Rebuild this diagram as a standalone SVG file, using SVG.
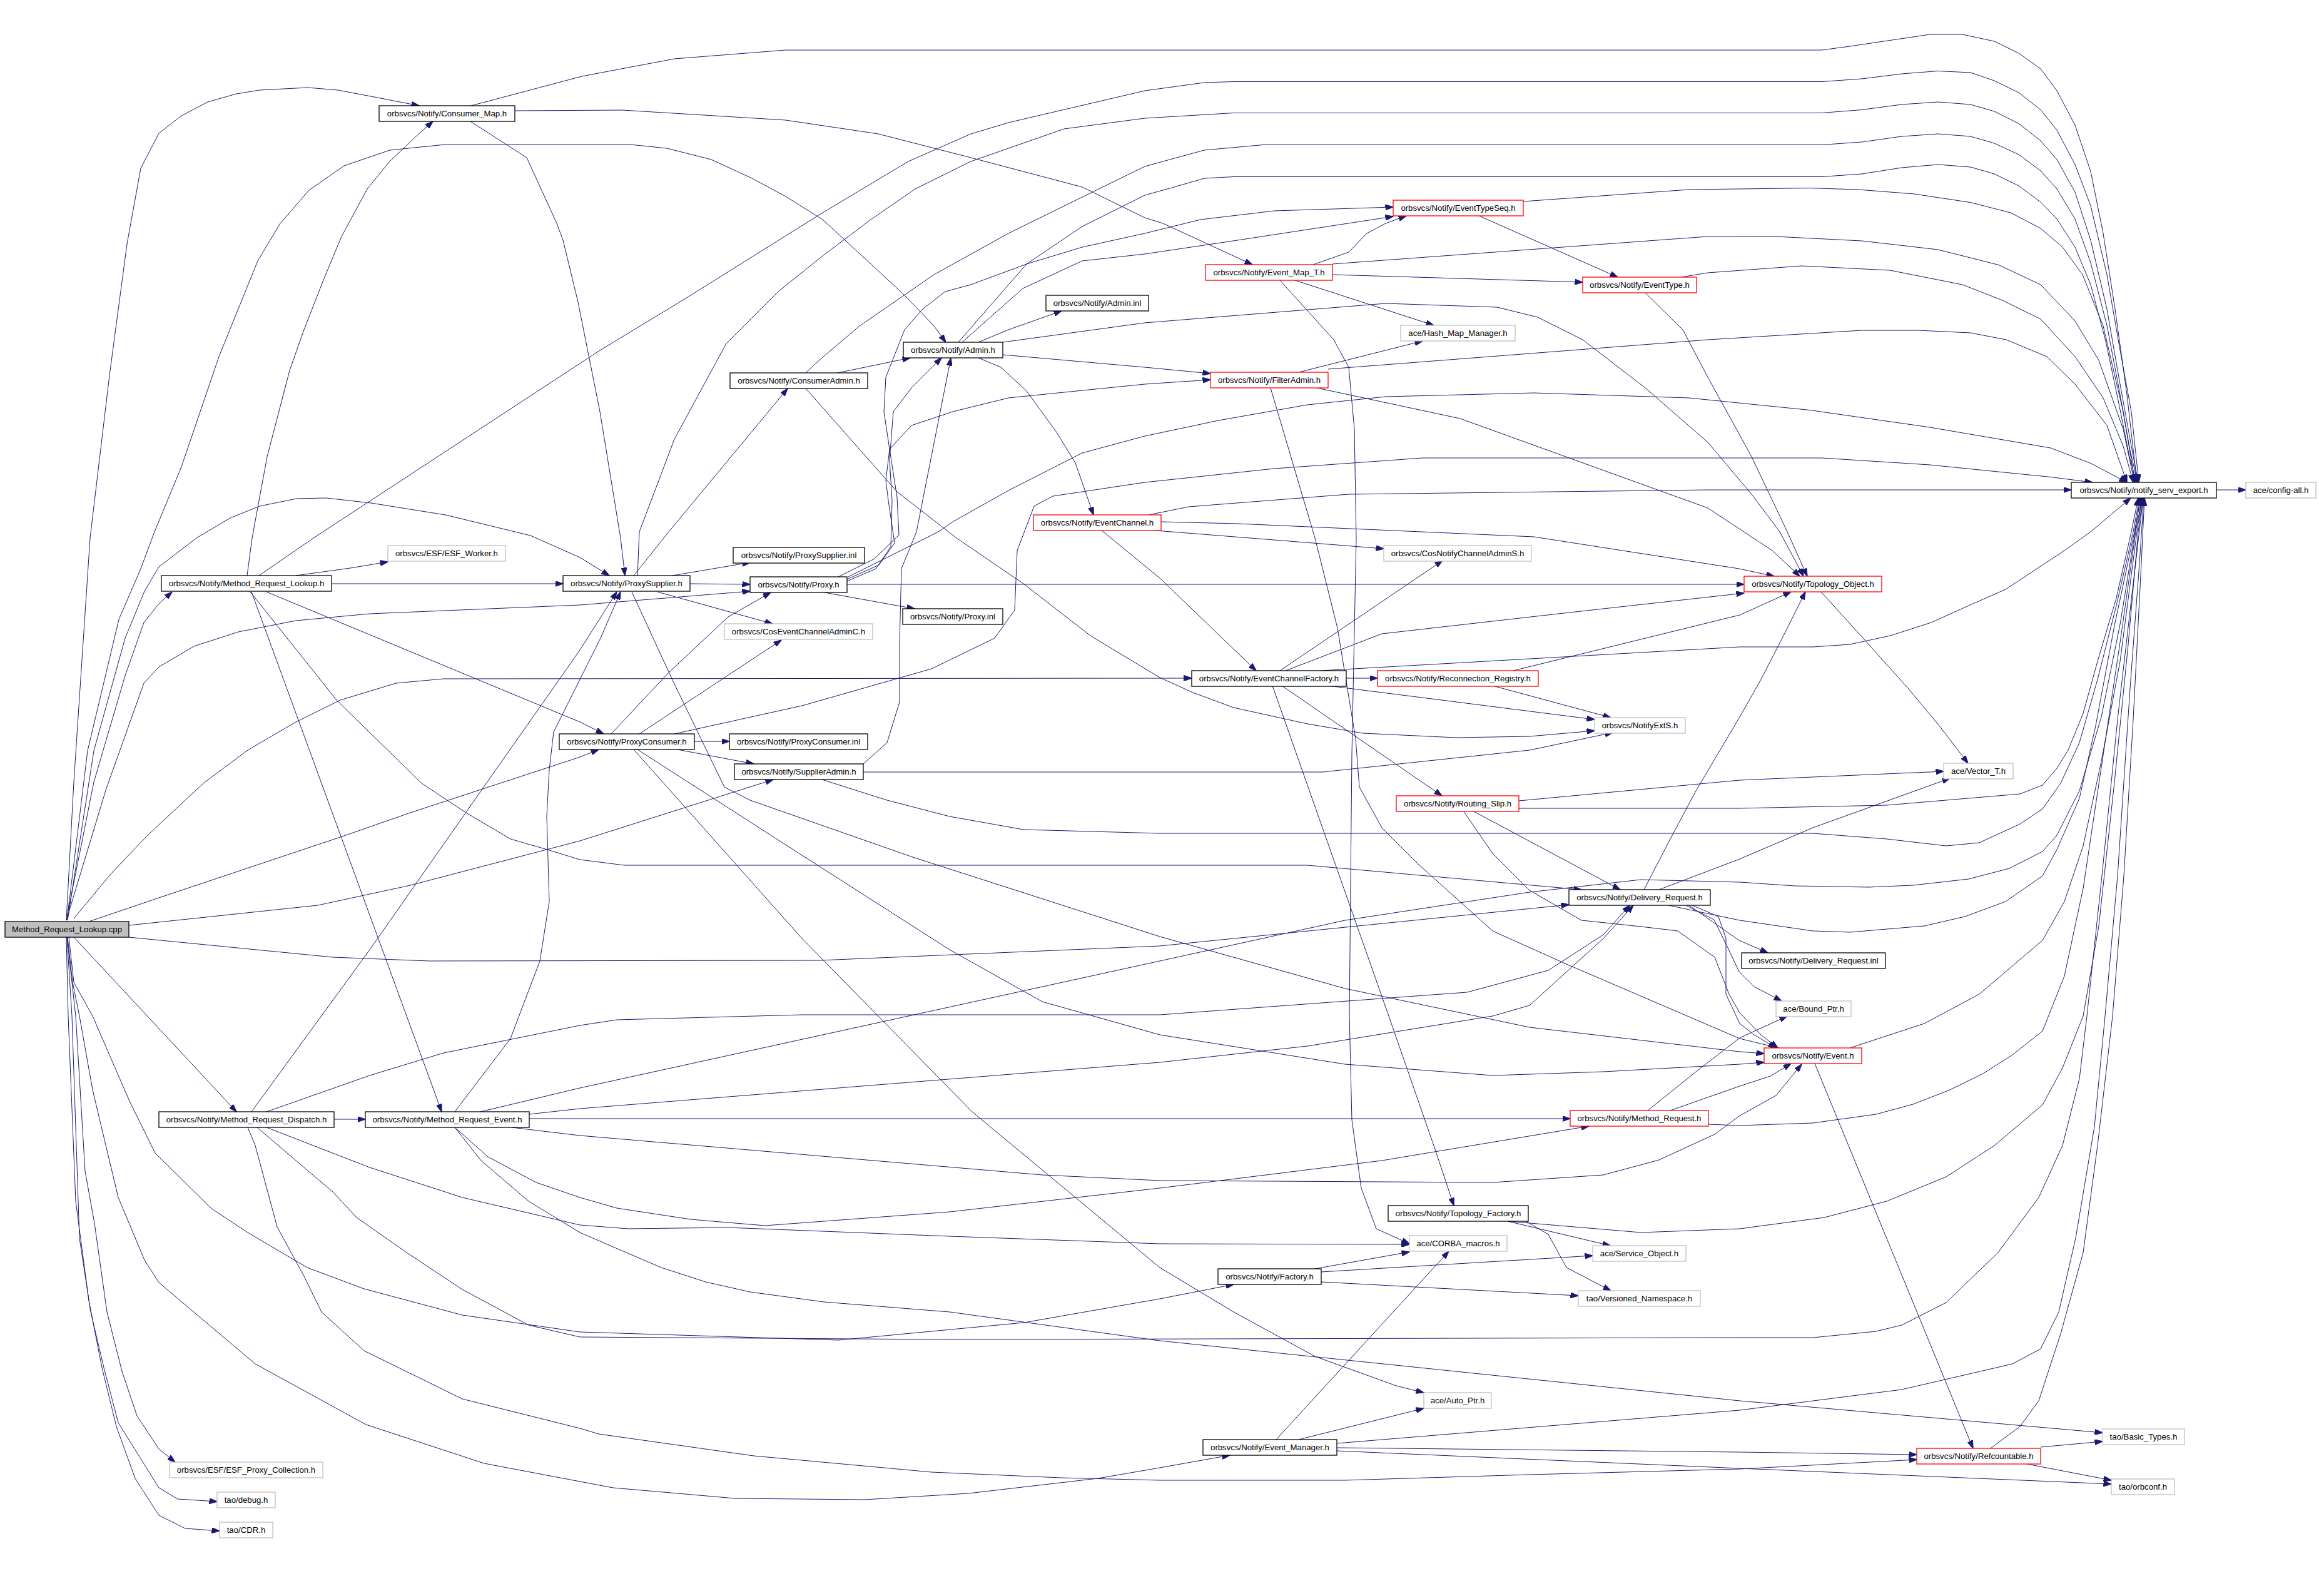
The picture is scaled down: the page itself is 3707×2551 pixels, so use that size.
<svg xmlns="http://www.w3.org/2000/svg" width="3707" height="2551" viewBox="0 0 3707 2551">
<defs>
<marker id="arr" markerWidth="13" markerHeight="9" refX="12.5" refY="4.5" orient="auto" markerUnits="userSpaceOnUse"><path d="M0,0 L13,4.5 L0,9 z" fill="#191970" stroke="#191970" stroke-width="1"/></marker>
<style>
.e{fill:none;stroke:#191970;stroke-width:1;stroke-linejoin:round;marker-end:url(#arr)}
.b{fill:#fff;stroke:#000;stroke-width:1.3}
.r{fill:#fff;stroke:#ff0000;stroke-width:1.3}
.g{fill:#fff;stroke:#bfbfbf;stroke-width:1.3}
.c{fill:#bfbfbf;stroke:#000;stroke-width:1.3}
text{font-family:'Liberation Sans',Arial,Helvetica,sans-serif;font-size:13.2px;text-anchor:middle;fill:#000}
</style>
</defs>
<rect width="3707" height="2551" fill="#fff"/>
<g id="edges">
<path class="e" d="M106,1471 L118,1250 L144,860 L175,600 L203,390 L225,269 L254,213 L290,185 L332,163 L378,150 L415,144 L492,140 L540,144 L593,154 L670,169"/>
<path class="e" d="M107,1471 L140,1200 L190,990 L225,909 L247,850 L290,746 L350,570 L412,417 L448,357 L494,304 L550,265 L623,240 L712,231 L1007,231 L1066,237 L1137,255 L1202,285 L1256,314 L1315,351 L1351,384 L1404,433 L1446,472 L1493,521 L1512,547"/>
<path class="e" d="M108,1471 L150,1200 L200,1020 L231,945 L254,906 L314,860 L368,828 L415,809 L474,797 L522,796 L593,804 L712,823 L848,856 L927,891 L974,920"/>
<path class="e" d="M106,1471 L150,1250 L200,1080 L230,995 L254,965 L275,946"/>
<path class="e" d="M106,1471 L170,1260 L230,1092 L254,1066 L310,1033 L381,1010 L473,992 L591,981 L927,967 L1199,945"/>
<path class="e" d="M118,1468 L177,1397 L236,1335 L325,1252 L396,1199 L473,1154 L544,1119 L633,1092 L709,1085 L1905,1084"/>
<path class="e" d="M142,1473 L254,1435 L544,1338 L656,1299 L927,1210 L957,1198"/>
<path class="e" d="M206,1479 L508,1447 L656,1415 L927,1344 L1236,1246"/>
<path class="e" d="M206,1498 L532,1530 L686,1536 L1311,1535 L1854,1512 L2508,1446"/>
<path class="e" d="M118,1498 L378,1777"/>
<path class="e" d="M110,1498 L118,1570 L148,1624 L207,1760 L248,1843 L337,1931 L396,1970 L491,2026 L582,2060 L739,2102 L927,2129 L1340,2142 L1637,2114 L1854,2076 L1972,2053"/>
<path class="e" d="M108,1498 L116,1570 L127,1624 L148,1742 L189,1914 L231,2014 L254,2050 L408,2180 L585,2277 L774,2339 L927,2368 L980,2378 L1175,2395 L1382,2397 L1548,2387 L1755,2363 L1854,2346 L1966,2326"/>
<path class="e" d="M107,1498 L121,1624 L136,1872 L151,1955 L171,2097 L195,2192 L219,2263 L254,2316 L280,2337"/>
<path class="e" d="M107,1498 L115,1624 L127,1979 L145,2097 L166,2186 L189,2274 L219,2322 L254,2378 L284,2396 L347,2400"/>
<path class="e" d="M106,1498 L109,1624 L121,1920 L142,2079 L163,2186 L186,2280 L216,2363 L254,2422 L296,2443 L351,2447"/>
<path class="e" d="M395,920 L403,860 L427,730 L463,592 L486,527 L516,450 L546,378 L587,302 L623,258 L664,219 L692,194"/>
<path class="e" d="M414,920 L501,860 L930,579 L959,560 L1096,477 L1315,340 L1452,258 L1552,214 L1612,196 L1830,145 L1925,132 L1972,130.5 L2912,130.5 L2976,126 L3040,118 L3098,113.5 L3150,116 L3188,129 L3227,148 L3262,175.5 L3288,208 L3317,263 L3342,329 L3368,439 L3387,548.5 L3407,658 L3419,771"/>
<path class="e" d="M473,920 L560,908 L620,898"/>
<path class="e" d="M530,933 L900,933"/>
<path class="e" d="M402,946 L706,1777"/>
<path class="e" d="M426,946 L927,1154 L965,1173"/>
<path class="e" d="M400,946 L538,1119 L674,1252 L745,1299 L816,1341 L875,1358 L927,1374 L998,1383 L2090,1383 L2528,1422"/>
<path class="e" d="M753,169 L930,122 L1078,94 L1256,80 L2912,80 L2957,74 L3085,55 L3137,55 L3188,66 L3227,85 L3262,110 L3288,145 L3317,200 L3342,274 L3362,373 L3381,494 L3400,631 L3416,771"/>
<path class="e" d="M823,177 L995,176 L1256,192 L1404,214 L1552,252 L1730,299 L1830,348 L1859,357 L2002,423"/>
<path class="e" d="M752,194 L842,252 L890,357 L900,384 L924,483 L959,658 L992,860 L999,920"/>
<path class="e" d="M1564,547 L1612,527 L1697,497"/>
<path class="e" d="M1538,547 L1635,461 L1730,417 L1830,406 L1978,384 L2227,346"/>
<path class="e" d="M1532,547 L1641,422 L1730,362 L1830,312 L1877,299 L1925,285 L1972,282.5 L2912,282.5 L2976,278 L3040,268 L3098,263 L3150,267 L3188,278 L3227,297 L3262,323 L3288,350 L3317,395 L3342,455 L3366,545 L3386,640 L3404,730 L3415,771"/>
<path class="e" d="M1603,547 L1830,516 L2215,485 L2393,491 L2458,507 L2530,543 L2630,620 L2730,707 L2800,790 L2845,850 L2883,921"/>
<path class="e" d="M1603,567 L1830,587 L1935,597"/>
<path class="e" d="M1564,572 L1600,587 L1641,625 L1689,691 L1719,740 L1748,823"/>
<path class="e" d="M1339,596 L1455,572"/>
<path class="e" d="M1288,596 L1315,571 L1374,521 L1493,439 L1612,373 L1730,315 L1830,266 L1859,258 L1925,240 L2019,231.5 L2912,231.5 L2976,227 L3040,218 L3098,214 L3150,218 L3188,229 L3227,247 L3262,273 L3288,302 L3317,350 L3342,420 L3368,520 L3387,620 L3405,720 L3417,771"/>
<path class="e" d="M1288,621 L1434,786 L1529,860 L1636,933 L1743,1016 L1854,1083 L1907,1107 L1972,1131 L2090,1157 L2179,1172 L2327,1179 L2445,1177 L2549,1168"/>
<path class="e" d="M1836,823 L1900,810 L2156,790 L2730,783 L3311,783"/>
<path class="e" d="M1835,847 L2212,877"/>
<path class="e" d="M1856,834 L1978,837 L2452,858 L2780,909 L2836,921"/>
<path class="e" d="M1760,847 L1854,924 L2008,1072"/>
<path class="e" d="M2362,344 L2586,443"/>
<path class="e" d="M2435,322 L2700,303 L2893,300.6 L2970,303 L3060,310 L3150,323.6 L3214,340 L3262,365 L3297,395 L3329,439 L3362,521 L3394,658 L3413,771"/>
<path class="e" d="M2099,423 L2156,403 L2185,373 L2215,357 L2248,345"/>
<path class="e" d="M2130,439 L2530,451"/>
<path class="e" d="M2070,448 L2292,520"/>
<path class="e" d="M2130,422 L2730,378 L2848,378.5 L2976,385 L3098,399 L3195,423.5 L3262,455 L3317,513 L3355,576 L3394,686 L3412,771"/>
<path class="e" d="M2046,448 L2132,543 L2156,587 L2165,686 L2168,860 L2161,1205 L2157,1624 L2161,1790 L2176,1899 L2200,1964 L2253,1988"/>
<path class="e" d="M2687,443 L2730,436 L2880,425 L3021,432 L3137,455 L3201,480 L3262,510 L3317,570 L3362,636 L3394,713 L3410,771"/>
<path class="e" d="M2630,468 L2690,527 L2730,603 L2800,730 L2857,850 L2889,921"/>
<path class="e" d="M2076,595 L2274,545"/>
<path class="e" d="M2123,590 L2730,543 L2976,528 L3066,528 L3150,532 L3207,543 L3272,570 L3317,614 L3368,680 L3400,771"/>
<path class="e" d="M2105,620 L2334,669 L2730,812 L2833,880 L2877,921"/>
<path class="e" d="M2031,620 L2102,860 L2138,1004 L2167,1181 L2173,1258 L2209,1323 L2268,1382 L2386,1488 L2504,1541 L2781,1660 L2843,1675"/>
<path class="e" d="M1013,920 L1069,850 L1259,621"/>
<path class="e" d="M1019,920 L1022,850 L1078,702 L1161,549 L1244,466 L1315,409 L1392,351 L1463,302 L1552,258 L1701,206 L1830,189 L1972,180.5 L2912,180.5 L2976,175.5 L3040,167 L3098,163 L3150,167 L3188,178 L3227,197.5 L3262,225 L3288,255 L3317,307 L3342,384 L3368,494 L3387,603 L3407,713 L3418,771"/>
<path class="e" d="M1103,933 L1199,934"/>
<path class="e" d="M1075,920 L1199,899"/>
<path class="e" d="M1051,946 L1235,997"/>
<path class="e" d="M1010,946 L1075,1087 L1158,1258 L1199,1279 L1459,1370 L1854,1497 L2150,1580 L2445,1642 L2781,1681 L2820,1684"/>
<path class="e" d="M1354,934 L2788,934"/>
<path class="e" d="M1318,947 L1462,973"/>
<path class="e" d="M1356,922 L1500,850 L1523,834 L1612,784 L1730,724 L1830,697 L1948,672 L2090,647 L2215,634 L2452,628 L2700,636 L2893,655.5 L3085,683 L3278,716 L3342,740.5 L3400,771"/>
<path class="e" d="M1354,929 L1400,909 L1424,874 L1426,800 L1422,735 L1428,658 L1457,620 L1505,572"/>
<path class="e" d="M1354,926 L1405,903 L1430,868 L1420,800 L1416,768 L1422,718 L1457,680 L1523,658 L1612,636 L1830,614 L1935,607"/>
<path class="e" d="M1340,922 L1398,893 L1437,855 L1434,795 L1422,718 L1413,658 L1416,603 L1446,527 L1475,494 L1511,466 L1552,455 L1641,422 L1730,395 L1830,373 L1919,351 L2037,337 L2227,331"/>
<path class="e" d="M977,1173 L1069,1075 L1164,986 L1232,947"/>
<path class="e" d="M1110,1185 L1166,1185"/>
<path class="e" d="M1083,1198 L1205,1221"/>
<path class="e" d="M1022,1173 L1249,1023"/>
<path class="e" d="M1019,1198 L1282,1367 L1518,1518 L1666,1601 L1854,1654 L2150,1701 L2386,1719 L2563,1713 L2781,1701 L2820,1698"/>
<path class="e" d="M1013,1198 L1282,1500 L1554,1777 L1854,2026 L1972,2097 L2102,2168 L2232,2215 L2276,2226"/>
<path class="e" d="M1078,1173 L1282,1128 L1489,1069 L1590,1020 L1622,975 L1626,880 L1653,809 L1683,793 L1830,771 L2037,749 L2274,732 L2912,732 L3085,743 L3278,762.5 L3345,771"/>
<path class="e" d="M1380,1221 L1418,1187 L1438,1122 L1438,1027 L1441,909 L1465,850 L1520,572"/>
<path class="e" d="M1380,1234 L2114,1234 L2445,1199 L2578,1171"/>
<path class="e" d="M1314,1246 L1418,1279 L1518,1305 L1636,1326 L1854,1332 L2898,1332 L3016,1341 L3111,1352 L3164,1347 L3229,1317 L3265,1293 L3294,1252 L3324,1187 L3353,1086 L3383,968 L3410,850 L3420,796"/>
<path class="e" d="M2046,1072 L2306,896"/>
<path class="e" d="M2152,1084 L2202,1084"/>
<path class="e" d="M2123,1096 L2549,1150"/>
<path class="e" d="M2049,1096 L2305,1272"/>
<path class="e" d="M2055,1072 L2209,1013 L2500,980 L2788,948"/>
<path class="e" d="M2111,1072 L2781,1034 L2898,1034 L2957,1030 L3022,1016 L3087,995 L3147,968 L3206,942 L3300,880 L3342,850 L3406,796"/>
<path class="e" d="M2034,1096 L2220,1624 L2294,1837 L2324,1927"/>
<path class="e" d="M2386,1096 L2575,1147"/>
<path class="e" d="M2419,1072 L2781,983 L2863,946"/>
<path class="e" d="M2428,1280 L2781,1247 L3107,1233"/>
<path class="e" d="M2428,1292 L2780,1292 L3016,1287 L3229,1269 L3265,1255 L3288,1228 L3306,1199 L3330,1140 L3353,1057 L3383,956 L3407,850 L3418,796"/>
<path class="e" d="M2354,1296 L2590,1422"/>
<path class="e" d="M2339,1296 L2386,1364 L2445,1423 L2528,1471 L2623,1481 L2682,1488 L2741,1530 L2764,1589 L2781,1619 L2815,1654 L2842,1675"/>
<path class="e" d="M2628,1422 L2670,1341 L2711,1264 L2781,1146 L2815,1086 L2851,1016 L2886,946"/>
<path class="e" d="M2652,1422 L2781,1373 L2898,1323 L3117,1244"/>
<path class="e" d="M2667,1447 L2781,1471 L2898,1488 L2957,1490 L3076,1480 L3141,1465 L3206,1441 L3265,1400 L3288,1358 L3324,1276 L3350,1160 L3380,1000 L3412,850 L3422,796"/>
<path class="e" d="M2700,1447 L2780,1503 L2826,1523"/>
<path class="e" d="M2695,1447 L2740,1470 L2762,1515 L2780,1553 L2804,1577 L2848,1600"/>
<path class="e" d="M2705,1447 L2747,1465 L2759,1500 L2759,1589 L2781,1636 L2804,1654 L2839,1675"/>
<path class="e" d="M2901,1700 L3154,2315"/>
<path class="e" d="M2957,1675 L3076,1636 L3164,1589 L3265,1503 L3300,1441 L3330,1352 L3359,1217 L3389,1057 L3416,850 L3424,796"/>
<path class="e" d="M2670,1775 L2781,1736 L2830,1720 L2863,1700"/>
<path class="e" d="M2634,1775 L2711,1713 L2781,1659 L2857,1624"/>
<path class="e" d="M2731,1797 L2780,1799 L2898,1795 L2999,1781 L3058,1765 L3117,1742 L3170,1716 L3217,1686 L3265,1648 L3300,1560 L3330,1420 L3360,1220 L3390,1020 L3414,850 L3424,796"/>
<path class="e" d="M2911,946 L2980,1022 L3050,1100 L3100,1160 L3146,1220"/>
<path class="e" d="M2410,1952 L2574,1991"/>
<path class="e" d="M2439,1952 L2475,1973 L2504,2026 L2575,2063"/>
<path class="e" d="M2410,1952 L2623,1970 L2781,1964 L2916,1946 L3016,1920 L3111,1881 L3188,1831 L3265,1766 L3297,1707 L3330,1624 L3355,1480 L3380,1250 L3402,1030 L3418,850 L3425,796"/>
<path class="e" d="M2102,2028 L2253,2001"/>
<path class="e" d="M2112,2033 L2546,2007"/>
<path class="e" d="M2112,2049 L2523,2071"/>
<path class="e" d="M2040,2301 L2316,2000"/>
<path class="e" d="M2076,2301 L2276,2251"/>
<path class="e" d="M2137,2307 L2781,2254 L3040,2221 L3217,2180 L3262,2156 L3291,2097 L3318,1979 L3348,1801 L3365,1624 L3385,1400 L3405,1100 L3420,900 L3427,796"/>
<path class="e" d="M2137,2314 L2781,2321 L3064,2325"/>
<path class="e" d="M2137,2319 L2781,2347 L3375,2372"/>
<path class="e" d="M3262,2313 L3361,2304"/>
<path class="e" d="M3235,2339 L3375,2366"/>
<path class="e" d="M3182,2315 L3229,2280 L3259,2239 L3294,2132 L3330,2002 L3353,1831 L3377,1624 L3395,1400 L3410,1150 L3423,900 L3428,796"/>
<path class="e" d="M534,1789 L584,1789"/>
<path class="e" d="M402,1777 L591,1518 L769,1264 L927,1039 L986,946"/>
<path class="e" d="M426,1777 L591,1719 L709,1683 L927,1639 L986,1630 L1282,1622 L1854,1622 L2345,1586 L2475,1551 L2563,1494 L2605,1447"/>
<path class="e" d="M426,1802 L591,1866 L739,1914 L927,1958 L1004,1964 L1163,1962 L1518,1976 L1854,1988 L2253,1989"/>
<path class="e" d="M396,1802 L408,1831 L443,1961 L485,2038 L514,2097 L582,2159 L739,2236 L927,2283 L957,2292 L1205,2327 L1489,2353 L1696,2362 L1854,2366 L2150,2366 L2445,2357 L2781,2348 L3064,2333"/>
<path class="e" d="M411,1802 L473,1855 L532,1905 L570,1946 L650,2002 L739,2061 L845,2118 L927,2137 L1513,2141 L2781,2138 L2898,2138 L2999,2128 L3040,2118 L3111,2082 L3194,2002 L3259,1914 L3297,1831 L3324,1724 L3336,1624 L3360,1400 L3385,1150 L3408,950 L3426,796"/>
<path class="e" d="M846,1788 L2510,1788"/>
<path class="e" d="M727,1802 L780,1849 L857,1890 L927,1914 L986,1931 L1104,1949 L1223,1959 L1518,1937 L1854,1899 L2209,1855 L2540,1800"/>
<path class="e" d="M727,1777 L816,1660 L863,1536 L878,1441 L874,1305 L878,1230 L885,1170 L920,1100 L960,1020 L992,946"/>
<path class="e" d="M768,1777 L927,1739 L1854,1536 L2150,1471 L2445,1426 L2623,1406 L2781,1410 L2869,1416 L2987,1418 L3058,1415 L3147,1405 L3212,1388 L3265,1361 L3288,1335 L3324,1264 L3359,1146 L3389,998 L3413,850 L3421,796"/>
<path class="e" d="M846,1781 L927,1772 L1854,1698 L2090,1672 L2386,1624 L2445,1607 L2563,1500 L2611,1447"/>
<path class="e" d="M818,1802 L927,1815 L1666,1878 L1854,1887 L2386,1890 L2563,1878 L2652,1854 L2741,1813 L2780,1784 L2839,1751 L2880,1701"/>
<path class="e" d="M727,1802 L769,1855 L845,1920 L927,1970 L980,1993 L1057,2026 L1128,2049 L1199,2065 L1317,2081 L1518,2097 L1854,2143 L2781,2239 L3361,2290"/>
<path class="e" d="M3543,783 L3590,783"/>
</g>
<g id="n1"><rect class="c" x="8" y="1473" width="198" height="25"/><text x="107" y="1490">Method_Request_Lookup.cpp</text></g>
<g id="n2"><rect class="b" x="606" y="169" width="217" height="25"/><text x="714.5" y="186">orbsvcs/Notify/Consumer_Map.h</text></g>
<g id="n3"><rect class="b" x="1444" y="547" width="159" height="25"/><text x="1523.5" y="564">orbsvcs/Notify/Admin.h</text></g>
<g id="n4"><rect class="b" x="1672" y="472" width="164" height="25"/><text x="1754" y="489">orbsvcs/Notify/Admin.inl</text></g>
<g id="n5"><rect class="b" x="1167" y="596" width="220" height="25"/><text x="1277" y="613">orbsvcs/Notify/ConsumerAdmin.h</text></g>
<g id="n6"><rect class="r" x="1652" y="823" width="204" height="25"/><text x="1754" y="840">orbsvcs/Notify/EventChannel.h</text></g>
<g id="n7"><rect class="r" x="2227" y="320" width="208" height="25"/><text x="2331" y="337">orbsvcs/Notify/EventTypeSeq.h</text></g>
<g id="n8"><rect class="r" x="1927" y="423" width="203" height="25"/><text x="2028.5" y="440">orbsvcs/Notify/Event_Map_T.h</text></g>
<g id="n9"><rect class="r" x="2530" y="443" width="182" height="25"/><text x="2621" y="460">orbsvcs/Notify/EventType.h</text></g>
<g id="n10"><rect class="g" x="2239" y="520" width="183" height="25"/><text x="2330.5" y="537">ace/Hash_Map_Manager.h</text></g>
<g id="n11"><rect class="r" x="1935" y="595" width="188" height="25"/><text x="2029" y="612">orbsvcs/Notify/FilterAdmin.h</text></g>
<g id="n12"><rect class="b" x="3311" y="771" width="232" height="25"/><text x="3427" y="788">orbsvcs/Notify/notify_serv_export.h</text></g>
<g id="n13"><rect class="g" x="3590" y="771" width="112" height="25"/><text x="3646" y="788">ace/config-all.h</text></g>
<g id="n14"><rect class="g" x="620" y="872" width="188" height="25"/><text x="714" y="889">orbsvcs/ESF/ESF_Worker.h</text></g>
<g id="n15"><rect class="b" x="258" y="920" width="272" height="25"/><text x="394" y="937">orbsvcs/Notify/Method_Request_Lookup.h</text></g>
<g id="n16"><rect class="b" x="900" y="920" width="203" height="25"/><text x="1001.5" y="937">orbsvcs/Notify/ProxySupplier.h</text></g>
<g id="n17"><rect class="b" x="1172" y="875" width="210" height="25"/><text x="1277" y="892">orbsvcs/Notify/ProxySupplier.inl</text></g>
<g id="n18"><rect class="b" x="1199" y="922" width="155" height="25"/><text x="1276.5" y="939">orbsvcs/Notify/Proxy.h</text></g>
<g id="n19"><rect class="b" x="1443" y="973" width="160" height="25"/><text x="1523" y="990">orbsvcs/Notify/Proxy.inl</text></g>
<g id="n20"><rect class="g" x="1158" y="997" width="237" height="25"/><text x="1276.5" y="1014">orbsvcs/CosEventChannelAdminC.h</text></g>
<g id="n21"><rect class="g" x="2212" y="872" width="236" height="25"/><text x="2330" y="889">orbsvcs/CosNotifyChannelAdminS.h</text></g>
<g id="n22"><rect class="r" x="2788" y="921" width="220" height="25"/><text x="2898" y="938">orbsvcs/Notify/Topology_Object.h</text></g>
<g id="n23"><rect class="b" x="1905" y="1072" width="247" height="25"/><text x="2028.5" y="1089">orbsvcs/Notify/EventChannelFactory.h</text></g>
<g id="n24"><rect class="r" x="2202" y="1072" width="257" height="25"/><text x="2330.5" y="1089">orbsvcs/Notify/Reconnection_Registry.h</text></g>
<g id="n25"><rect class="g" x="2549" y="1147" width="145" height="25"/><text x="2621.5" y="1164">orbsvcs/NotifyExtS.h</text></g>
<g id="n26"><rect class="b" x="894" y="1173" width="216" height="25"/><text x="1002" y="1190">orbsvcs/Notify/ProxyConsumer.h</text></g>
<g id="n27"><rect class="b" x="1166" y="1173" width="221" height="25"/><text x="1276.5" y="1190">orbsvcs/Notify/ProxyConsumer.inl</text></g>
<g id="n28"><rect class="b" x="1174" y="1221" width="206" height="25"/><text x="1277" y="1238">orbsvcs/Notify/SupplierAdmin.h</text></g>
<g id="n29"><rect class="g" x="3107" y="1220" width="111" height="25"/><text x="3162.5" y="1237">ace/Vector_T.h</text></g>
<g id="n30"><rect class="r" x="2232" y="1272" width="196" height="25"/><text x="2330" y="1289">orbsvcs/Notify/Routing_Slip.h</text></g>
<g id="n31"><rect class="b" x="2508" y="1422" width="226" height="25"/><text x="2621" y="1439">orbsvcs/Notify/Delivery_Request.h</text></g>
<g id="n32"><rect class="b" x="2784" y="1523" width="230" height="25"/><text x="2899" y="1540">orbsvcs/Notify/Delivery_Request.inl</text></g>
<g id="n33"><rect class="g" x="2839" y="1600" width="120" height="25"/><text x="2899" y="1617">ace/Bound_Ptr.h</text></g>
<g id="n34"><rect class="r" x="2820" y="1675" width="156" height="25"/><text x="2898" y="1692">orbsvcs/Notify/Event.h</text></g>
<g id="n35"><rect class="b" x="254" y="1777" width="280" height="25"/><text x="394" y="1794">orbsvcs/Notify/Method_Request_Dispatch.h</text></g>
<g id="n36"><rect class="b" x="584" y="1777" width="262" height="25"/><text x="715" y="1794">orbsvcs/Notify/Method_Request_Event.h</text></g>
<g id="n37"><rect class="r" x="2510" y="1775" width="221" height="25"/><text x="2620.5" y="1792">orbsvcs/Notify/Method_Request.h</text></g>
<g id="n38"><rect class="b" x="2219" y="1927" width="224" height="25"/><text x="2331" y="1944">orbsvcs/Notify/Topology_Factory.h</text></g>
<g id="n39"><rect class="g" x="2253" y="1975" width="156" height="25"/><text x="2331" y="1992">ace/CORBA_macros.h</text></g>
<g id="n40"><rect class="g" x="2546" y="1991" width="149" height="25"/><text x="2620.5" y="2008">ace/Service_Object.h</text></g>
<g id="n41"><rect class="b" x="1947" y="2028" width="165" height="25"/><text x="2029.5" y="2045">orbsvcs/Notify/Factory.h</text></g>
<g id="n42"><rect class="g" x="2523" y="2063" width="195" height="25"/><text x="2620.5" y="2080">tao/Versioned_Namespace.h</text></g>
<g id="n43"><rect class="g" x="2276" y="2226" width="108" height="25"/><text x="2330" y="2243">ace/Auto_Ptr.h</text></g>
<g id="n44"><rect class="b" x="1923" y="2301" width="214" height="25"/><text x="2030" y="2318">orbsvcs/Notify/Event_Manager.h</text></g>
<g id="n45"><rect class="g" x="3361" y="2284" width="131" height="25"/><text x="3426.5" y="2301">tao/Basic_Types.h</text></g>
<g id="n46"><rect class="r" x="3064" y="2315" width="198" height="25"/><text x="3163" y="2332">orbsvcs/Notify/Refcountable.h</text></g>
<g id="n47"><rect class="g" x="3375" y="2364" width="101" height="25"/><text x="3425.5" y="2381">tao/orbconf.h</text></g>
<g id="n48"><rect class="g" x="271" y="2337" width="245" height="25"/><text x="393.5" y="2354">orbsvcs/ESF/ESF_Proxy_Collection.h</text></g>
<g id="n49"><rect class="g" x="347" y="2385" width="93" height="25"/><text x="393.5" y="2402">tao/debug.h</text></g>
<g id="n50"><rect class="g" x="351" y="2433" width="85" height="25"/><text x="393.5" y="2450">tao/CDR.h</text></g>
</svg>
